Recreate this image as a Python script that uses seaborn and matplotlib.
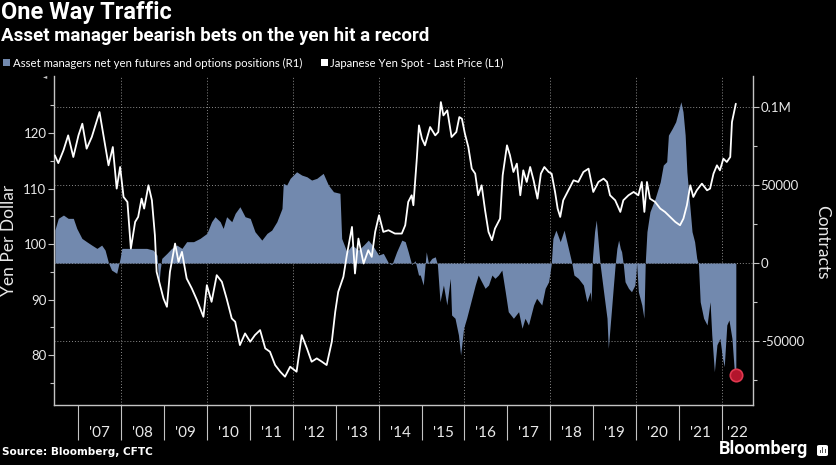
import numpy as np
import pandas as pd
import seaborn as sns
import matplotlib.pyplot as plt
from matplotlib.patches import Rectangle, FancyBboxPatch

# Japanese yen spot (left axis), decimal years
yen_years = [2006.46, 2006.54, 2006.66, 2006.77, 2006.89, 2007.01, 2007.10, 2007.20, 2007.32, 2007.50,
             2007.63, 2007.71, 2007.81, 2007.90, 2007.98, 2008.06, 2008.15, 2008.23, 2008.33, 2008.40,
             2008.48, 2008.54, 2008.64, 2008.72, 2008.79, 2008.83, 2008.91, 2008.99, 2009.07, 2009.14,
             2009.26, 2009.34, 2009.42, 2009.53, 2009.65, 2009.77, 2009.92, 2010.00, 2010.11, 2010.23,
             2010.35, 2010.46, 2010.58, 2010.66, 2010.77, 2010.89, 2011.01, 2011.12, 2011.24, 2011.36,
             2011.47, 2011.59, 2011.71, 2011.82, 2011.94, 2012.09, 2012.21, 2012.33, 2012.44, 2012.56,
             2012.68, 2012.79, 2012.91, 2012.99, 2013.06, 2013.18, 2013.26, 2013.38, 2013.45, 2013.53,
             2013.65, 2013.76, 2013.84, 2013.92, 2014.01, 2014.11, 2014.23, 2014.38, 2014.54, 2014.62,
             2014.69, 2014.77, 2014.81, 2014.89, 2014.94, 2015.01, 2015.08, 2015.20, 2015.32, 2015.39,
             2015.45, 2015.51, 2015.60, 2015.70, 2015.81, 2015.88, 2015.94, 2016.01, 2016.09, 2016.17,
             2016.25, 2016.32, 2016.40, 2016.48, 2016.56, 2016.64, 2016.71, 2016.83, 2016.89, 2016.99,
             2017.06, 2017.14, 2017.22, 2017.30, 2017.37, 2017.45, 2017.53, 2017.61, 2017.70, 2017.78,
             2017.86, 2017.96, 2018.03, 2018.11, 2018.17, 2018.23, 2018.30, 2018.42, 2018.54, 2018.65,
             2018.77, 2018.89, 2019.00, 2019.12, 2019.24, 2019.32, 2019.39, 2019.51, 2019.63, 2019.70,
             2019.82, 2019.94, 2020.05, 2020.13, 2020.19, 2020.25, 2020.32, 2020.44, 2020.56, 2020.67,
             2020.79, 2020.91, 2021.02, 2021.10, 2021.18, 2021.26, 2021.33, 2021.41, 2021.53, 2021.65,
             2021.72, 2021.80, 2021.88, 2021.95, 2022.03, 2022.11, 2022.19, 2022.23, 2022.32]
yen_values = [116.0, 114.6, 116.9, 119.6, 115.7, 119.6, 121.7, 117.2, 119.3, 123.8,
              117.8, 114.2, 117.5, 110.0, 113.9, 108.5, 107.6, 99.2, 104.0, 104.9,
              108.2, 106.4, 110.6, 107.9, 101.6, 95.0, 92.6, 90.2, 88.7, 95.0,
              100.1, 96.8, 98.6, 93.8, 92.0, 89.9, 86.9, 92.6, 89.6, 94.4,
              93.2, 90.2, 86.6, 86.0, 81.8, 83.9, 82.4, 83.6, 84.5, 81.2,
              80.6, 78.2, 77.0, 76.1, 77.9, 77.0, 83.6, 81.2, 78.8, 79.4,
              78.8, 78.2, 82.4, 87.8, 91.4, 94.1, 98.0, 103.1, 94.7, 101.0,
              96.5, 98.9, 97.7, 102.2, 105.2, 102.2, 102.5, 101.9, 101.9, 103.4,
              107.6, 108.8, 107.0, 115.4, 121.4, 119.0, 117.8, 121.1, 119.6, 120.2,
              125.6, 123.2, 124.1, 119.3, 120.2, 122.9, 122.6, 119.9, 117.5, 113.6,
              112.7, 108.8, 110.6, 106.1, 102.2, 100.7, 102.8, 104.6, 112.4, 117.8,
              116.0, 113.0, 114.5, 108.8, 113.3, 111.2, 113.9, 111.5, 108.2, 112.7,
              113.9, 113.0, 112.7, 109.4, 106.4, 104.9, 107.9, 109.7, 111.5, 111.2,
              113.0, 113.6, 109.4, 111.2, 111.8, 111.2, 108.8, 107.9, 105.8, 107.9,
              108.8, 109.4, 108.8, 111.2, 105.8, 111.2, 108.2, 107.6, 106.4, 105.8,
              104.9, 104.0, 103.4, 104.6, 107.0, 110.6, 108.5, 109.7, 110.9, 109.7,
              110.0, 112.7, 114.2, 113.3, 115.4, 114.8, 115.7, 122.0, 125.3]

# Asset managers net yen futures and options positions (right axis), contracts
pos_years = [2006.46, 2006.54, 2006.66, 2006.77, 2006.89, 2006.97, 2007.09, 2007.20, 2007.32, 2007.44,
             2007.55, 2007.63, 2007.71, 2007.78, 2007.90, 2007.98, 2008.02, 2008.13, 2008.37, 2008.60,
             2008.75, 2008.84, 2008.88, 2008.91, 2008.95, 2009.07, 2009.18, 2009.30, 2009.42, 2009.53,
             2009.69, 2009.84, 2010.00, 2010.11, 2010.19, 2010.31, 2010.38, 2010.46, 2010.58, 2010.66,
             2010.77, 2010.89, 2011.01, 2011.12, 2011.28, 2011.40, 2011.51, 2011.63, 2011.75, 2011.78,
             2011.86, 2011.94, 2012.09, 2012.21, 2012.33, 2012.44, 2012.56, 2012.71, 2012.83, 2012.95,
             2013.10, 2013.14, 2013.26, 2013.38, 2013.53, 2013.65, 2013.76, 2013.88, 2014.00, 2014.11,
             2014.23, 2014.31, 2014.42, 2014.54, 2014.62, 2014.69, 2014.77, 2014.85, 2014.93, 2014.97,
             2015.04, 2015.11, 2015.16, 2015.24, 2015.32, 2015.37, 2015.43, 2015.51, 2015.59, 2015.67,
             2015.70, 2015.78, 2015.86, 2015.91, 2015.98, 2016.05, 2016.13, 2016.25, 2016.32, 2016.40,
             2016.48, 2016.56, 2016.64, 2016.71, 2016.79, 2016.87, 2016.95, 2017.02, 2017.14, 2017.26,
             2017.34, 2017.41, 2017.49, 2017.61, 2017.68, 2017.80, 2017.88, 2017.96, 2018.02, 2018.06,
             2018.13, 2018.23, 2018.32, 2018.42, 2018.50, 2018.55, 2018.65, 2018.77, 2018.85, 2018.93,
             2018.95, 2018.98, 2019.03, 2019.07, 2019.12, 2019.16, 2019.24, 2019.32, 2019.35, 2019.42,
             2019.47, 2019.51, 2019.55, 2019.59, 2019.63, 2019.66, 2019.70, 2019.74, 2019.82, 2019.89,
             2019.97, 2020.01, 2020.05, 2020.13, 2020.18, 2020.21, 2020.25, 2020.32, 2020.44, 2020.56,
             2020.63, 2020.71, 2020.75, 2020.84, 2020.92, 2020.98, 2021.04, 2021.09, 2021.14, 2021.18,
             2021.24, 2021.30, 2021.36, 2021.41, 2021.45, 2021.49, 2021.57, 2021.65, 2021.72, 2021.76,
             2021.82, 2021.88, 2021.95, 2022.01, 2022.05, 2022.11, 2022.16, 2022.23, 2022.28, 2022.32]
pos_values = [21150, 28650, 30770, 28650, 28650, 22230, 15800, 13700, 11500, 9400,
              11500, 8300, 0, -4500, -6600, 3000, 9400, 9400, 9400, 9400,
              8300, 5000, -15000, -5000, 3000, 6200, 9400, 11500, 9400, 13700,
              13700, 15800, 19000, 26500, 29700, 26500, 22200, 29700, 26500, 31900,
              36100, 29700, 28600, 20100, 14700, 19000, 21100, 26500, 35000, 51100,
              50000, 54300, 58500, 56400, 55300, 53200, 54300, 57500, 50000, 45700,
              44700, 15800, 7200, 11500, 8300, 11500, 14700, 10500, 5100, 6200,
              0, -1000, 7200, 14700, 13700, 7200, -1000, 1500, -7700, -7700,
              -14100, 7200, 0, 3000, 4000, -1000, -24800, -14100, -26900, -9800,
              -33300, -35400, -46100, -59000, -41800, -35400, -26900, -14100, -7700, -12000,
              -16200, -14100, -7700, -9800, -7700, -4500, -18400, -31200, -35400, -31200,
              -41800, -35400, -39700, -26900, -22600, -26900, -16200, -12000, -1000, 15800,
              21100, 13700, 21100, 9400, 0, -7700, -9800, -14100, -24800, -18400,
              -24800, 3000, 20100, 27600, 11500, -1000, -18400, -35400, -54700, -31200,
              -14100, -1000, 9400, 14700, 9400, 7200, -1000, -12000, -16200, -18400,
              -14100, 0, -18400, -26900, -35400, 0, 20100, 32900, 41400, 52100,
              62800, 65000, 82000, 86300, 90600, 97000, 103400, 97000, 82000, 58500,
              39300, 20100, 13700, 3000, -1000, -24800, -35400, -39700, -24800, -46100,
              -69700, -52400, -48300, -61100, -66400, -39700, -36500, -48300, -67500, -71800]

year_ticks = list(range(2007, 2023))
year_labels = ["'07", "'08", "'09", "'10", "'11", "'12", "'13", "'14",
               "'15", "'16", "'17", "'18", "'19", "'20", "'21", "'22"]
yen_ticks = [80, 90, 100, 110, 120]
pos_ticks = [-50000, 0, 50000, 100000]
pos_tick_labels = ["-50000", "0", "50000", "0.1M"]

W, H = 836, 465
FILL = "#7289ae"
GRID = "#8c8c8c"
SPINE = "#c4c4c4"
TXT = "#e8e8e8"
XMIN, XMAX = 2006.44, 2022.72

sns.set_theme(style="dark", rc={"figure.facecolor": "black", "axes.facecolor": "black",
                                "savefig.facecolor": "black"})
plt.rcParams["font.family"] = ["Lato", "DejaVu Sans"]


def fx(px):
    return px / W


def fy(py):
    return 1 - py / H


fig = plt.figure(figsize=(W / 100, H / 100), dpi=100)
ax = fig.add_axes([fx(54), fy(405), (753 - 54) / W, (405 - 76) / H])
ax.set_facecolor("black")
ax2 = ax.twinx()

# contracts area (R1)
ax.fill_between(pos_years, 0, pos_values, color=FILL, lw=0, zorder=2, interpolate=True)
ax.scatter([pos_years[-1]], [pos_values[-1]], s=80, facecolor="#b3152c", edgecolor="#e0384f",
           lw=1.2, zorder=6)
ax.set_xlim(XMIN, XMAX)
ax.set_ylim(-91000, 119900)

ax.yaxis.tick_right()
ax.yaxis.set_label_position("right")
ax.set_yticks(pos_ticks)
ax.set_yticklabels(pos_tick_labels)
ax.set_yticks([-75000, -25000, 25000, 75000], minor=True)
ax.tick_params(axis="y", which="both", colors=SPINE, labelcolor=TXT, labelsize=9.5,
               direction="out", length=4, width=0.8, pad=1.5,
               right=True, left=False, labelright=True, labelleft=False)
ax.tick_params(axis="y", which="minor", length=3)

ax.set_xticks(year_ticks)
ax.set_xticklabels([""] * len(year_ticks))
mids = [(y + min(y + 1, XMAX)) / 2 for y in year_ticks]
ax.set_xticks(mids, minor=True)
ax.set_xticklabels(year_labels, minor=True)
ax.tick_params(axis="x", which="major", colors=SPINE, length=25, width=0.8, direction="out",
               bottom=True)
ax.tick_params(axis="x", which="minor", length=0, pad=15, labelsize=11, labelcolor=TXT,
               bottom=True)

ax.grid(False)
ax.grid(axis="y", which="major", color=GRID, ls=(0, (1, 2)), lw=0.7)
for yr in range(2008, 2023, 2):
    ax.axvline(yr, color=GRID, ls=(0, (1, 2)), lw=0.7, zorder=1)
ax.set_axisbelow(True)

for side in ["left", "bottom", "right"]:
    ax.spines[side].set_visible(True)
    ax.spines[side].set_color(SPINE)
    ax.spines[side].set_linewidth(1.0)
ax.spines["top"].set_visible(False)

# yen line (L1)
sns.lineplot(x=yen_years, y=yen_values, ax=ax2, color="white", lw=1.3, estimator=None, zorder=5)
ax2.set_xlim(XMIN, XMAX)
ax2.set_ylim(71.0, 130.3)
ax2.yaxis.tick_left()
ax2.set_yticks(yen_ticks)
ax2.set_yticks([75, 85, 95, 105, 115, 125], minor=True)
ax2.tick_params(axis="y", which="both", colors=SPINE, labelcolor=TXT, labelsize=9.5,
                direction="out", length=4, width=0.8, pad=1.5,
                left=True, right=False, labelleft=True, labelright=False)
ax2.tick_params(axis="y", which="minor", length=3)
ax2.grid(False)
ax2.set_ylabel("")
for side in ax2.spines:
    ax2.spines[side].set_visible(False)

# axis titles
fig.text(fx(9), fy(240), "Yen Per Dollar", rotation=90, ha="center", va="center",
         fontsize=12.5, color=TXT)
fig.text(fx(822), fy(242), "Contracts", rotation=270, ha="center", va="center",
         fontsize=12.5, color=TXT)

# titles
fig.text(fx(1), fy(19.5), "One Way Traffic", fontsize=17, fontweight="bold",
         family=["Roboto", "DejaVu Sans"], color="white", va="baseline")
fig.text(fx(1), fy(40.5), "Asset manager bearish bets on the yen hit a record", fontsize=13.5,
         fontweight="bold", family=["Roboto", "DejaVu Sans"], color="white", va="baseline")

# legend
fig.add_artist(Rectangle((fx(3), fy(66)), 7 / W, 7 / H, transform=fig.transFigure,
                         color=FILL, lw=0))
fig.text(fx(13), fy(66.5), "Asset managers net yen futures and options positions (R1)",
         fontsize=8.2, color="white", va="baseline")
fig.add_artist(Rectangle((fx(321), fy(66)), 7 / W, 7 / H, transform=fig.transFigure,
                         color="white", lw=0))
fig.text(fx(330), fy(66.5), "Japanese Yen Spot - Last Price (L1)",
         fontsize=8.2, color="white", va="baseline")
fig.text(fx(45), fy(77), "\u25c4", fontsize=4, color=SPINE, ha="center", va="center",
         family=["DejaVu Sans"])

# footer
fig.text(fx(2), fy(455), "Source: Bloomberg, CFTC", fontsize=7.6, fontweight="bold",
         family=["DejaVu Sans"], color="white", va="baseline")
fig.text(fx(808), fy(454), "Bloomberg", fontsize=13, fontweight="bold",
         family=["Roboto", "DejaVu Sans"], color="white", va="baseline", ha="right")
fig.add_artist(FancyBboxPatch((fx(817), fy(456)), 11 / W, 11 / H, transform=fig.transFigure,
                              boxstyle="round,pad=0,rounding_size=0.003", color="white", lw=0))
for i, hgt in enumerate([3, 6, 4]):
    fig.add_artist(Rectangle((fx(819.5 + i * 2.5), fy(453)), 1.2 / W, hgt / H,
                             transform=fig.transFigure, color="#555555", lw=0))

fig.savefig("out.png", dpi=100, facecolor="black")
